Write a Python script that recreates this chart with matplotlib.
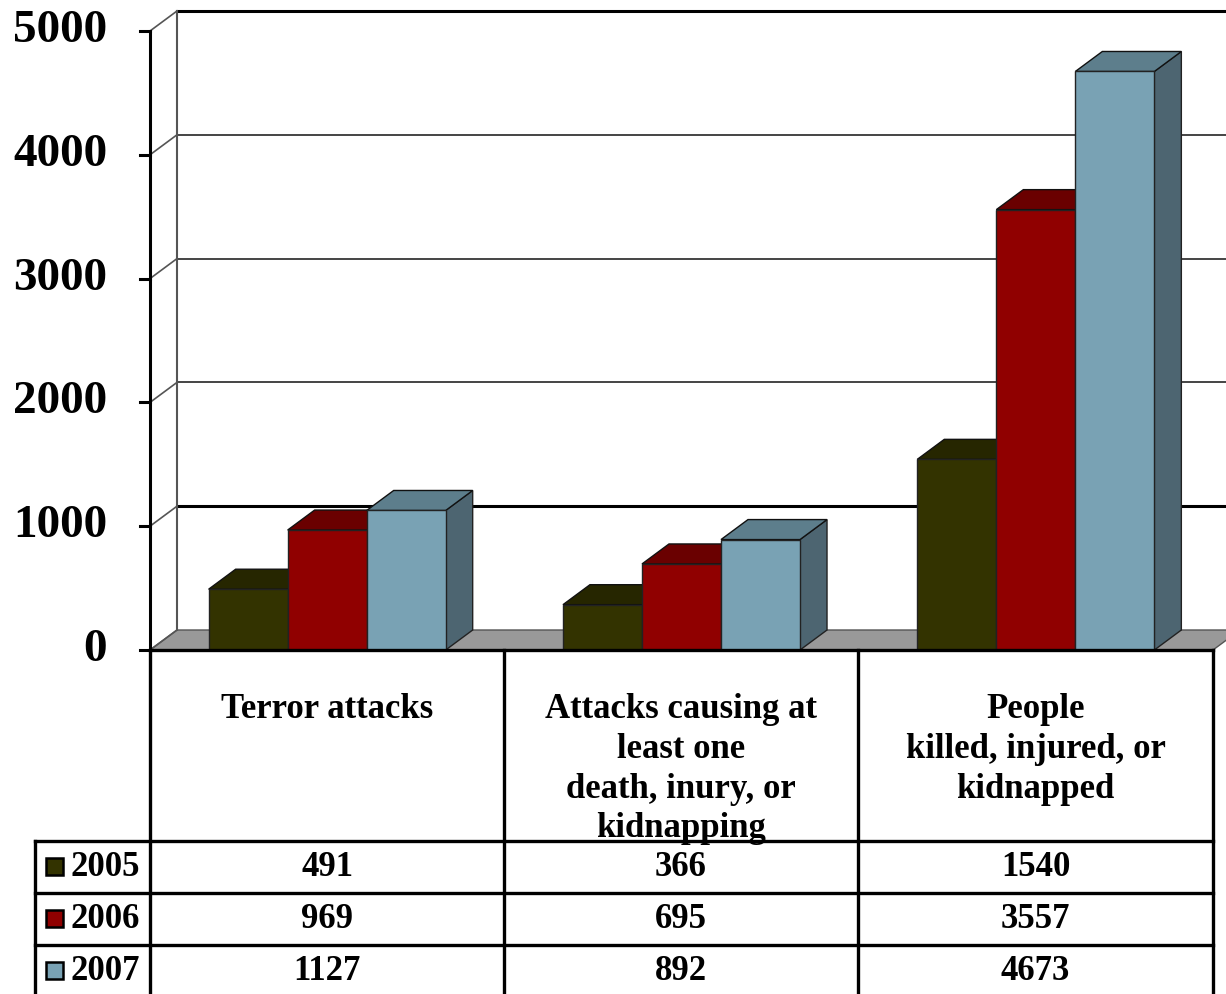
import matplotlib
matplotlib.use("Agg")
import matplotlib.pyplot as plt
from matplotlib.patches import Polygon, Rectangle

# data
categories = ["Terror attacks",
              "Attacks causing at\nleast one\ndeath, inury, or\nkidnapping",
              "People\nkilled, injured, or\nkidnapped"]
years = ["2005", "2006", "2007"]
v2005 = [491, 366, 1540]
v2006 = [969, 695, 3557]
v2007 = [1127, 892, 4673]
series = [v2005, v2006, v2007]
yticks = [0, 1000, 2000, 3000, 4000, 5000]

front_cols = ["#333300", "#900000", "#79a2b4"]
top_cols = ["#262600", "#6a0000", "#5d7e8c"]
side_cols = ["#1e1e00", "#5a0000", "#4d6571"]

plt.rcParams['font.family'] = ['Liberation Serif', 'DejaVu Serif']
plt.rcParams['font.weight'] = 'bold'

W, H = 1226, 994
fig = plt.figure(figsize=(W / 100, H / 100), dpi=100)

# pixel geometry of the plot area
X0, Y0 = 150, 650          # origin of front axis (px)
PX_CAT = 354.33            # px per category
PX_VAL = 0.1238            # px per unit value
DX_PX, DY_PX = 27, 20      # 3d depth offset (px)

ax = fig.add_axes([0, 0, 1, 1])
ax.set_xlim(-X0 / PX_CAT, (W - X0) / PX_CAT)
ax.set_ylim((Y0 - H) / PX_VAL, Y0 / PX_VAL)
ax.axis('off')

dx = DX_PX / PX_CAT
dy = DY_PX / PX_VAL
ncat = len(categories)
ymax = yticks[-1]

# floor
floor = Polygon([(0, 0), (ncat, 0), (ncat + dx, dy), (dx, dy)],
                closed=True, facecolor="#999999", edgecolor="#555555", lw=1, zorder=1)
ax.add_patch(floor)

# back wall gridlines
for t in yticks:
    if t == 0:
        continue
    if t in (1000, ymax):
        col, lw = "black", 2.2
    else:
        col, lw = "#444444", 1.4
    ax.plot([dx, ncat + dx], [t + dy, t + dy], color=col, lw=lw, zorder=1)
ax.plot([dx, dx], [dy, ymax + dy], color="#555555", lw=1.5, zorder=1)

# left side wall depth lines
for t in yticks:
    ax.plot([0, dx], [t, t + dy], color="#555555", lw=1.2, zorder=1)

# bars
bw = 0.223
for i in range(ncat):
    start = i + 0.5 - 1.5 * bw
    for j, vals in enumerate(series):
        v = vals[i]
        x0 = start + j * bw
        x1 = x0 + bw
        z = 3 + j
        side = Polygon([(x1, 0), (x1 + dx, dy), (x1 + dx, v + dy), (x1, v)],
                       closed=True, facecolor=side_cols[j], edgecolor="#222222", lw=1, zorder=z)
        top = Polygon([(x0, v), (x1, v), (x1 + dx, v + dy), (x0 + dx, v + dy)],
                      closed=True, facecolor=top_cols[j], edgecolor="#111111", lw=1, zorder=z)
        front = Rectangle((x0, 0), bw, v, facecolor=front_cols[j],
                          edgecolor="#222222", lw=1, zorder=z + 0.5)
        ax.add_patch(side)
        ax.add_patch(top)
        ax.add_patch(front)

# front value axis
ax.plot([0, 0], [0, ymax], color="black", lw=2.2, zorder=10)
for t in yticks:
    ax.plot([-10 / PX_CAT, 0], [t, t], color="black", lw=2.2, zorder=10)
    ax.text(-43 / PX_CAT, t, str(t), ha='right', va='center',
            fontsize=34, fontweight='bold', zorder=10)

# data table, drawn in pixel coordinates
tb = fig.add_axes([0, 0, 1, 1])
tb.set_xlim(0, W)
tb.set_ylim(H, 0)
tb.axis('off')
tb.patch.set_alpha(0)

col_x = [150, 504, 858, 1213]
row_y = [841, 893, 945, 997]
lw_t = 2.4
tb.plot([col_x[0], col_x[-1]], [650, 650], color="black", lw=lw_t, zorder=5)
for x in col_x:
    tb.plot([x, x], [650, H], color="black", lw=lw_t, zorder=5)
for y in row_y[:-1]:
    tb.plot([35, col_x[-1]], [y, y], color="black", lw=lw_t, zorder=5)
tb.plot([35, 35], [row_y[0], H], color="black", lw=lw_t, zorder=5)

for i, cat in enumerate(categories):
    cx = (col_x[i] + col_x[i + 1]) / 2
    tb.text(cx, 693, cat, ha='center', va='top', fontsize=25,
            fontweight='bold', linespacing=1.27, zorder=6)

for j, yr in enumerate(years):
    cy = (row_y[j] + row_y[j + 1]) / 2
    tb.add_patch(Rectangle((46, cy - 9), 17, 17, facecolor=front_cols[j],
                           edgecolor="black", lw=1.8, zorder=6))
    tb.text(71, cy, yr, ha='left', va='center', fontsize=25, fontweight='bold', zorder=6)
    for i in range(ncat):
        cx = (col_x[i] + col_x[i + 1]) / 2
        tb.text(cx, cy, str(series[j][i]), ha='center', va='center',
                fontsize=25, fontweight='bold', zorder=6)

fig.savefig("out.png", dpi=100)
